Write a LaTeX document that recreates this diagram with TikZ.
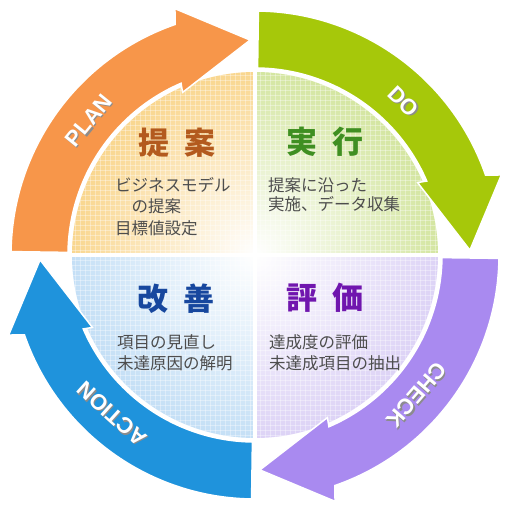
\documentclass[tikz,border=0pt]{standalone}
\usepackage{fontspec}
\newfontfamily\jpfont{Noto Sans CJK JP}
\newfontfamily\labelfont{Liberation Sans}
\usetikzlibrary{fadings}
\tikzfading[name=centreglow, inner color=transparent!0, outer color=transparent!100]
\definecolor{planarrow}{HTML}{F7964A}
\definecolor{doarrow}{HTML}{A6C80A}
\definecolor{checkarrow}{HTML}{A98AF0}
\definecolor{actarrow}{HTML}{1F93DC}
\definecolor{planpale}{HTML}{F9D282}
\definecolor{dopale}{HTML}{CFE396}
\definecolor{checkpale}{HTML}{D9CEF5}
\definecolor{actpale}{HTML}{BEDCF5}
\definecolor{plantitle}{HTML}{B35A1E}
\definecolor{dotitle}{HTML}{3F8F22}
\definecolor{checktitle}{HTML}{7016AE}
\definecolor{acttitle}{HTML}{17479E}
\definecolor{bodygray}{HTML}{4D4D4D}

\begin{document}
\begin{tikzpicture}[x=1pt, y=1pt,
  title/.style={font=\jpfont\bfseries\fontsize{31}{31}\selectfont, inner sep=0},
  body/.style={font=\jpfont\fontsize{16.5}{21}\selectfont, text=bodygray, align=left, anchor=north west, inner sep=0},
  cyclelabel/.style={font=\labelfont\bfseries\fontsize{22}{22}\selectfont, text=white, inner sep=0},
  labelshadow/.style={cyclelabel, text=black!45}]
  \useasboundingbox (-255,-259) rectangle (259,255);

  % pale quarters with glow and grid
  \begin{scope}
    \clip (0,0) circle (183);
    \fill[planpale] (-2,2) rectangle (-190,190);
    \fill[dopale] (2,2) rectangle (190,190);
    \fill[checkpale] (2,-2) rectangle (190,-190);
    \fill[actpale] (-2,-2) rectangle (-190,-190);
    \fill[white, path fading=centreglow] (0,0) circle (205);
    \foreach \g in {-185,-180,...,185} {
      \draw[white, opacity=0.35, line width=0.6] (\g,-190) -- (\g,190);
      \draw[white, opacity=0.35, line width=0.6] (-190,\g) -- (190,\g);
    }
  \end{scope}

  % the four curved arrows
  \foreach \s/\col in {180/planarrow, 90/doarrow, 0/checkarrow, -90/actarrow}
    \filldraw[fill=\col, draw=white, line width=1.5, line join=miter]
      (\s-0.8:244) arc[start angle=\s-0.8, end angle=\s-70.9, radius=244]
      -- (\s-72:259) -- (\s-88.7:215) -- (\s-66:178) -- (\s-66.7:187)
      arc[start angle=\s-66.7, end angle=\s-0.8, radius=187] -- cycle;

  % arrow labels
  \foreach \txt/\ang [count=\k] in {PLAN/141, DO/46, CHECK/-41, ACTION/-132} {
    \node[labelshadow, rotate=\ang-90] (shadow\k) at ([shift={(1.2,-1.2)}]\ang:214) {\txt};
    \node[cyclelabel, rotate=\ang-90] (label\k) at (\ang:214) {\txt};
  }

  % titles
  \node[title, text=plantitle] (proposal) at (-78,112) {提\hspace{15pt}案};
  \node[title, text=dotitle] (execution) at (70,113) {実\hspace{15pt}行};
  \node[title, text=acttitle] (improvement) at (-79,-44) {改\hspace{15pt}善};
  \node[title, text=checktitle] (evaluation) at (70,-43) {評\hspace{15pt}価};

  % descriptions
  \node[body, font=\jpfont\fontsize{16.5}{21.5}\selectfont] (proposaltext) at (-140,78) {ビジネスモデル\\　の提案\\目標値設定};
  \node[body, font=\jpfont\fontsize{16.5}{19}\selectfont] (executiontext) at (13,78) {提案に沿った\\実施、データ収集};
  \node[body] (improvementtext) at (-138,-79) {項目の見直し\\未達原因の解明};
  \node[body] (evaluationtext) at (14,-79) {達成度の評価\\未達成項目の抽出};
\end{tikzpicture}
\end{document}
